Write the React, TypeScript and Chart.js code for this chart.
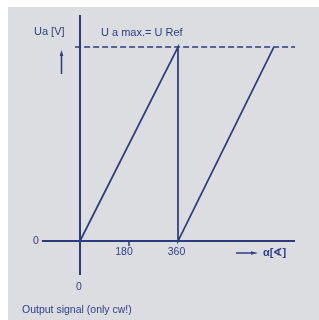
import React, { useEffect, useRef } from "react";
import { Chart, registerables } from "chart.js";

Chart.register(...registerables);

const LINE = "#2b3b7e";
const TEXT = "#2e408a";
const BG = "#dcdde0";
const FONT = '"Liberation Sans", Arial, Helvetica, sans-serif';

// Output signal: angle α (deg) vs Ua (as a fraction of U Ref)
const signalAngle = [0, 360, 360, 712];
const signalUa = [0, 1, 0, 1];
const refAngle = [-18, 790];
const refUa = [1, 1];
const xAxisAngle = [-140, 790];
const yAxisUa = [-0.175, 1.165];
const minorTicks = [180];
const tickLabels = ["180", "360"];
const tickLabelAngles = [180, 360];
const tickLabelShift = [-5, -1.5];

const xMin = -264.49;
const xMax = 877.96;
const yMin = -0.4072;
const yMax = 1.2062;

const pts = (xs: number[], ys: number[]) => xs.map((x, i) => ({ x, y: ys[i] }));

const annotations = {
  id: "annotations",
  afterDatasetsDraw(chart: any) {
    const ctx = chart.ctx as CanvasRenderingContext2D;
    const xs = chart.scales.x;
    const ys = chart.scales.y;
    const px = (v: number) => xs.getPixelForValue(v);
    const py = (v: number) => ys.getPixelForValue(v);
    ctx.save();
    // minor tick at 180
    ctx.strokeStyle = LINE;
    ctx.lineWidth = 1.5;
    minorTicks.forEach((t) => {
      ctx.beginPath();
      ctx.moveTo(px(t), py(0));
      ctx.lineTo(px(t), py(0) + 5);
      ctx.stroke();
    });
    ctx.fillStyle = TEXT;
    ctx.textBaseline = "middle";
    // tick labels
    ctx.font = `10.5px ${FONT}`;
    ctx.textAlign = "center";
    tickLabels.forEach((l, i) => {
      ctx.fillText(l, px(tickLabelAngles[i]) + tickLabelShift[i], py(0) + 11);
    });
    // zero labels
    ctx.fillText("0", px(0) - 44, py(0) + 0.5);
    ctx.fillText("0", px(0) - 1, py(yAxisUa[0]) + 12);
    // y axis title
    ctx.font = `11px ${FONT}`;
    ctx.textAlign = "left";
    ctx.fillText("Ua [V]", px(0) - 46, py(1) - 15);
    ctx.fillText("U a max.= U Ref", px(0) + 21, py(1) - 14);
    // up arrow
    const ax = px(0) - 18.5;
    ctx.beginPath();
    ctx.moveTo(ax, py(1) + 27);
    ctx.lineTo(ax, py(1) + 6);
    ctx.stroke();
    ctx.beginPath();
    ctx.moveTo(ax, py(1) + 3);
    ctx.lineTo(ax - 1.8, py(1) + 9);
    ctx.lineTo(ax + 1.8, py(1) + 9);
    ctx.closePath();
    ctx.fill();
    // right arrow + α label
    const ay = py(0) + 12;
    ctx.beginPath();
    ctx.moveTo(px(0) + 156, ay);
    ctx.lineTo(px(0) + 174, ay);
    ctx.stroke();
    ctx.beginPath();
    ctx.moveTo(px(0) + 178, ay);
    ctx.lineTo(px(0) + 171, ay - 1.8);
    ctx.lineTo(px(0) + 171, ay + 1.8);
    ctx.closePath();
    ctx.fill();
    ctx.font = `bold 11px ${FONT}`;
    ctx.fillText("α[∢]", px(0) + 183, ay - 0.5);
    // caption
    ctx.font = `10.5px ${FONT}`;
    ctx.fillText("Output signal (only cw!)", px(0) - 58, py(yAxisUa[0]) + 35);
    ctx.restore();
  },
};

export default function App() {
  const ref = useRef<HTMLCanvasElement>(null);
  useEffect(() => {
    if (!ref.current) return;
    const chart = new Chart(ref.current, {
      type: "scatter",
      data: {
        datasets: [
          {
            data: pts(xAxisAngle, [0, 0]),
            showLine: true,
            borderColor: LINE,
            borderWidth: 2,
            pointRadius: 0,
          },
          {
            data: pts([0, 0], yAxisUa),
            showLine: true,
            borderColor: LINE,
            borderWidth: 2,
            pointRadius: 0,
          },
          {
            data: pts(refAngle, refUa),
            showLine: true,
            borderColor: LINE,
            borderWidth: 1.4,
            borderDash: [6, 3],
            pointRadius: 0,
          },
          {
            data: pts(signalAngle, signalUa),
            showLine: true,
            borderColor: LINE,
            borderWidth: 1.7,
            pointRadius: 0,
            tension: 0,
          },
        ],
      },
      options: {
        responsive: false,
        animation: false,
        events: [],
        layout: { padding: 0 },
        plugins: { legend: { display: false }, tooltip: { enabled: false } },
        scales: {
          x: { type: "linear", min: xMin, max: xMax, display: false },
          y: { type: "linear", min: yMin, max: yMax, display: false },
        },
      },
      plugins: [annotations],
    });
    return () => chart.destroy();
  }, []);
  return (
    <div
      style={{
        position: "absolute",
        left: 8,
        top: 7,
        width: 311,
        height: 313,
        background: BG,
        overflow: "hidden",
      }}
    >
      <canvas ref={ref} width={311} height={313} style={{ display: "block" }} />
    </div>
  );
}
